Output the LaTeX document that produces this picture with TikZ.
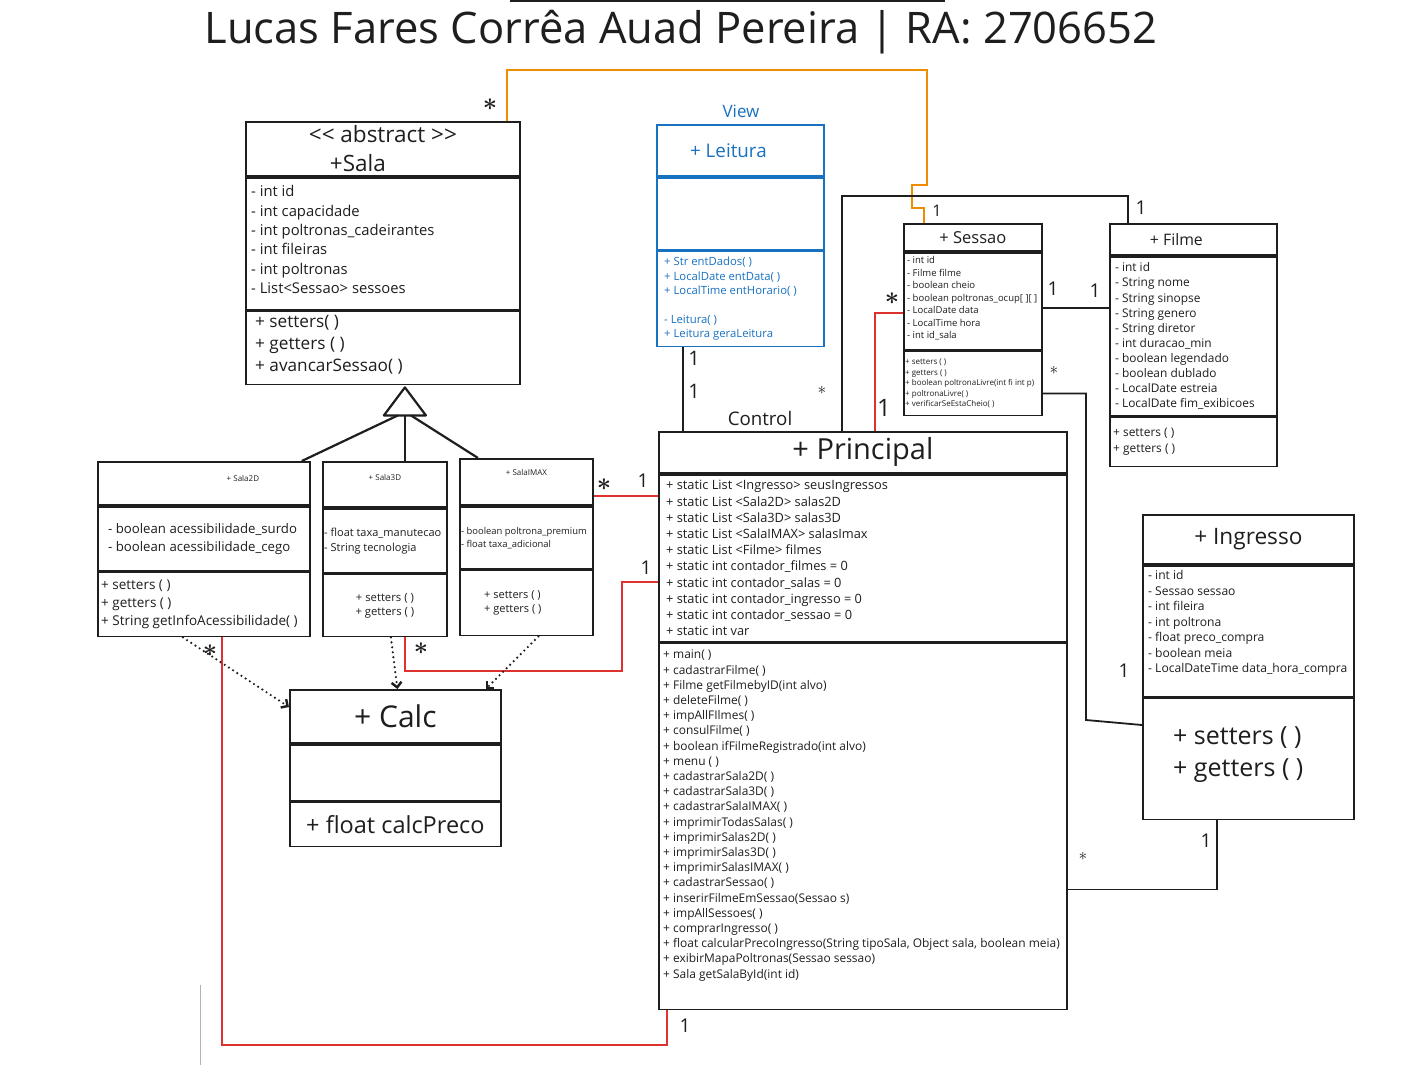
\documentclass[tikz,border=0pt]{standalone}
\usepackage{amsmath}
\usepackage{fontspec}
\setmainfont{Open Sans}
\usetikzlibrary{arrows.meta,positioning}
\definecolor{ink}{HTML}{1E1E1E}
\definecolor{crimson}{HTML}{E03131}
\definecolor{amber}{HTML}{F08C00}
\definecolor{azure}{HTML}{1971C2}
\newcommand{\fsz}[2]{\fontsize{#1}{#2}\selectfont}
\newcommand{\mstar}{$\boldsymbol{\ast}$}

\begin{document}
\begin{tikzpicture}[
    x=1pt, y=-1pt,
    part/.style 2 args={
        draw=ink,
        line width=1.8pt,
        anchor=north west,
        minimum width=#1,
        minimum height=#2,
        inner sep=0pt,
        text=ink,
        align=center
    },
    view/.style 2 args={part={#1}{#2}, draw=azure, text=azure},
    txt/.style={inner sep=0pt, align=left, text=ink, anchor=west},
    assoc/.style={draw=ink, line width=1.8pt},
    redline/.style={assoc, draw=crimson},
    orangeline/.style={assoc, draw=amber},
    gen/.style={draw=ink, line width=2.2pt, line join=round},
    dep/.style={draw=ink, line width=2.4pt, line cap=round, dash pattern=on 0pt off 5pt,
        -{Straight Barb[length=5pt, width=10pt]}},
    mult/.style={text=ink, inner sep=1pt, font=\fsz{19}{19}},
    star/.style={text=ink, inner sep=1pt, font=\fsz{30}{30}},
    smallstar/.style={text=ink, inner sep=1pt, font=\fsz{16}{16}}
]
\useasboundingbox (0,0) rectangle (1405,1065);
\fill[white] (0,0) rectangle (1405,1065);

% TITLE
\node[font=\fsz{43.5}{43.5}, text=ink] (title) at (681,32) {Lucas Fares Corrêa Auad Pereira | RA: 2706652};
\draw[ink, line width=1.5pt] (510,1) -- (945,1);

% SALA
\node[part={274pt}{54pt}, font=\fsz{22.5}{29}] (salaH) at (245,121) {<{}< abstract >{}>\\\hspace*{-50pt}+Sala};
\node[part={274pt}{132pt}] (salaA) at (salaH.south west) {};
\node[txt, font=\fsz{14.8}{19.4}, right=6pt of salaA.west, yshift=4pt] (salaAt) {- int id\\- int capacidade\\- int poltronas\_cadeirantes\\- int fileiras\\- int poltronas\\- List<Sessao> sessoes};
\node[part={274pt}{73pt}] (salaM) at (salaA.south west) {};
\node[txt, font=\fsz{17.2}{22}, right=10pt of salaM.west, yshift=3pt] (salaMt) {+ setters( )\\+ getters ( )\\+ avancarSessao( )};

% VIEW
\node[font=\fsz{17}{17}, text=azure] (viewLbl) at (741,111) {View};
\node[view={167pt}{51pt}] (leituraH) at (656,124) {};
\node[txt, text=azure, font=\fsz{18.8}{18.8}, anchor=center] (leituraHt) at ([xshift=-12pt]leituraH.center) {+ Leitura};
\node[view={167pt}{72pt}] (leituraA) at (leituraH.south west) {};
\node[view={167pt}{95pt}] (leituraM) at (leituraA.south west) {};
\node[txt, text=azure, font=\fsz{11.3}{14.4}, right=8pt of leituraM.west] (leituraMt) {+ Str entDados( )\\+ LocalDate entData( )\\+ LocalTime entHorario( )\\[14.4pt]- Leitura( )\\+ Leitura geraLeitura};

% SESSAO
\node[part={138pt}{27pt}, font=\fsz{16.5}{16.5}] (sessaoH) at (903,223) {+ Sessao};
\node[part={138pt}{97pt}] (sessaoA) at (sessaoH.south west) {};
\node[txt, font=\fsz{9.5}{12.5}, right=4pt of sessaoA.west, yshift=3pt] (sessaoAt) {- int id\\- Filme filme\\- boolean cheio\\- boolean poltronas\_ocup[ ][ ]\\- LocalDate data\\- LocalTime hora\\- int id\_sala};
\node[part={138pt}{64pt}] (sessaoM) at (sessaoA.south west) {};
\node[txt, font=\fsz{8}{10.5}, right=2pt of sessaoM.west] (sessaoMt) {+ setters ( )\\+ getters ( )\\+ boolean poltronaLivre(int fi int p)\\+ poltronaLivre( )\\+ verificarSeEstaCheio( )};

% FILME
\node[part={167pt}{31pt}] (filmeH) at (1109,223) {};
\node[txt, font=\fsz{15.8}{15.8}, anchor=center] (filmeHt) at ([xshift=-17pt]filmeH.center) {+ Filme};
\node[part={167pt}{159pt}] (filmeA) at (filmeH.south west) {};
\node[txt, font=\fsz{11.9}{15.1}, right=6pt of filmeA.west] (filmeAt) {- int id\\- String nome\\- String sinopse\\- String genero\\- String diretor\\- int duracao\_min\\- boolean legendado\\- boolean dublado\\- LocalDate estreia\\- LocalDate fim\_exibicoes};
\node[part={167pt}{49pt}] (filmeM) at (filmeA.south west) {};
\node[txt, font=\fsz{11.9}{16}, right=4pt of filmeM.west] (filmeMt) {+ setters ( )\\+ getters ( )};

% PRINCIPAL
\node[font=\fsz{18.7}{18.7}, text=ink] (ctrlLbl) at (760,418) {Control};
\node[part={408pt}{41pt}, font=\fsz{29}{29}] (principalH) at (658,431) {+ Principal};
\node[part={408pt}{167pt}] (principalA) at (principalH.south west) {};
\node[txt, font=\fsz{12.8}{16.2}, right=8pt of principalA.west] (principalAt) {+ static List <Ingresso> seusIngressos\\+ static List <Sala2D> salas2D\\+ static List <Sala3D> salas3D\\+ static List <SalaIMAX> salasImax\\+ static List <Filme> filmes\\+ static int contador\_filmes = 0\\+ static int contador\_salas = 0\\+ static int contador\_ingresso = 0\\+ static int contador\_sessao = 0\\+ static int var};
\node[part={408pt}{366pt}] (principalM) at (principalA.south west) {};
\node[txt, font=\fsz{11.95}{15.2}, right=5pt of principalM.west, yshift=11pt] (principalMt) {+ main( )\\+ cadastrarFilme( )\\+ Filme getFilmebyID(int alvo)\\+ deleteFilme( )\\+ impAllFIlmes( )\\+ consulFilme( )\\+ boolean ifFilmeRegistrado(int alvo)\\+ menu ( )\\+ cadastrarSala2D( )\\+ cadastrarSala3D( )\\+ cadastrarSalaIMAX( )\\+ imprimirTodasSalas( )\\+ imprimirSalas2D( )\\+ imprimirSalas3D( )\\+ imprimirSalasIMAX( )\\+ cadastrarSessao( )\\+ inserirFilmeEmSessao(Sessao s)\\+ impAllSessoes( )\\+ comprarIngresso( )\\+ float calcularPrecoIngresso(String tipoSala, Object sala, boolean meia)\\+ exibirMapaPoltronas(Sessao sessao)\\+ Sala getSalaById(int id)};

% INGRESSO
\node[part={211pt}{49pt}, font=\fsz{22.6}{22.6}] (ingressoH) at (1142,514) {+ Ingresso};
\node[part={211pt}{131pt}] (ingressoA) at (ingressoH.south west) {};
\node[txt, font=\fsz{12.1}{15.5}, right=6pt of ingressoA.west, yshift=8pt] (ingressoAt) {- int id\\- Sessao sessao\\- int fileira\\- int poltrona\\- float preco\_compra\\- boolean meia\\- LocalDateTime data\_hora\_compra};
\node[part={211pt}{121pt}] (ingressoM) at (ingressoA.south west) {};
\node[txt, font=\fsz{25}{32}, right=31pt of ingressoM.west, yshift=4pt] (ingressoMt) {+ setters ( )\\+ getters ( )};

% SALA2D
\node[part={212pt}{43pt}] (sala2dH) at (97,461) {};
\node[txt, font=\fsz{8}{8}, anchor=center] (sala2dHt) at ([xshift=39pt,yshift=5pt]sala2dH.center) {+ Sala2D};
\node[part={212pt}{64pt}] (sala2dA) at (sala2dH.south west) {};
\node[txt, font=\fsz{13.2}{18}, right=11pt of sala2dA.west] (sala2dAt) {- boolean acessibilidade\_surdo\\- boolean acessibilidade\_cego};
\node[part={212pt}{64pt}] (sala2dM) at (sala2dA.south west) {};
\node[txt, font=\fsz{13.5}{18}, right=4pt of sala2dM.west] (sala2dMt) {+ setters ( )\\+ getters ( )\\+ String getInfoAcessibilidade( )};

% SALA3D
\node[part={124pt}{45pt}] (sala3dH) at (322,461) {};
\node[txt, font=\fsz{8}{8}, anchor=center] (sala3dHt) at ([yshift=7pt]sala3dH.center) {+ Sala3D};
\node[part={124pt}{64pt}] (sala3dA) at (sala3dH.south west) {};
\node[txt, font=\fsz{11}{15}, right=2pt of sala3dA.west] (sala3dAt) {- float taxa\_manutecao\\- String tecnologia};
\node[part={124pt}{62pt}, font=\fsz{11.3}{14}] (sala3dM) at (sala3dA.south west) {+ setters ( )\\+ getters ( )};

% SALAIMAX
\node[part={133pt}{46pt}] (salaimaxH) at (459,458) {};
\node[txt, font=\fsz{8}{8}, anchor=center] (salaimaxHt) at ([yshift=9pt]salaimaxH.center) {+ SalaIMAX};
\node[part={133pt}{62pt}] (salaimaxA) at (salaimaxH.south west) {};
\node[txt, font=\fsz{9.4}{13}, right=2pt of salaimaxA.west] (salaimaxAt) {- boolean poltrona\_premium\\- float taxa\_adicional};
\node[part={133pt}{65pt}] (salaimaxM) at (salaimaxA.south west) {};
\node[txt, font=\fsz{11}{14}, right=25pt of salaimaxM.west] (salaimaxMt) {+ setters ( )\\+ getters ( )};

% CALC
\node[part={211pt}{53pt}, font=\fsz{30}{30}] (calcH) at (289,689) {+ Calc};
\node[part={211pt}{56pt}] (calcA) at (calcH.south west) {};
\node[part={211pt}{44pt}, font=\fsz{23.5}{23.5}] (calcM) at (calcA.south west) {+ float calcPreco};

% --- INHERITANCE ---
\coordinate (tip) at ([xshift=22pt,yshift=-2pt]salaM.south);
\coordinate (base) at ([yshift=-28pt]tip);
\draw[gen] (tip) -- ([xshift=-21pt]base) -- ([xshift=21pt]base) -- cycle;
\draw[gen] ([xshift=-7pt]base) -- ([xshift=-9pt]sala2dH.north east);
\draw[gen] (base) -- (base |- sala3dH.north);
\draw[gen] ([xshift=6pt]base) -- ([xshift=19pt]salaimaxH.north west);

% --- ASSOCIATIONS ---
\draw[orangeline] ([xshift=-14pt]salaH.north east) |- (927,70) |- (912,185) -- (912,208) -| ([xshift=21pt]sessaoH.north west);
\draw[assoc] ([xshift=-21pt]principalH.north) |- (1128,196) -- ([xshift=19pt]filmeH.north west);
\draw[redline] ([yshift=-12pt]sessaoA.west) -| ([xshift=12pt]principalH.north);
\draw[assoc] ([xshift=27pt]leituraM.south west) -- ([xshift=25pt]principalH.north west);
\coordinate (sf) at ([yshift=-7pt]sessaoA.east);
\draw[assoc] (sf) -- (sf -| filmeA.west);
\draw[assoc] ([yshift=-10pt]sessaoM.east) -| (1086,720) -- ([yshift=34pt]ingressoM.west);
\draw[assoc] ([yshift=-63pt]principalM.east) -| ([xshift=75pt]ingressoM.south west);
\coordinate (ip) at ([yshift=-14pt]salaimaxH.east);
\draw[redline] (ip) -- (ip -| principalA.west);
\draw[redline] ([xshift=20pt]sala3dM.south) |- (622,671) |- ([yshift=-24pt]principalA.west);
\draw[redline] ([xshift=18pt]sala2dM.south) |- (667,1045) -- ([xshift=9pt]principalM.south west);

% --- DEPENDENCIES ---
\draw[dep] ([xshift=-21pt]sala2dM.south) -- ([yshift=-18pt]calcH.north west);
\draw[dep] ([xshift=6pt]sala3dM.south) -- ([xshift=2pt]calcH.north);
\draw[dep] ([xshift=12pt]salaimaxM.south) -- ([xshift=-16pt]calcH.north east);

\draw[black!30, line width=1pt] (200,985) -- (200,1065);

% --- MULTIPLICITIES ---
\node[star] (mSalaSes) at (490,105) {\mstar};
\node[mult, font=\fsz{16}{16}] (mSesSala) at (937,211) {1};
\node[mult] (mFilPri) at (1141,208) {1};
\node[mult, font=\fsz{20}{20}] (mLeiA) at (694,358) {1};
\node[mult, font=\fsz{20}{20}] (mLeiB) at (694,391) {1};
\node[smallstar] (mPriFil) at (822,390) {$\ast$};
\node[mult, font=\fsz{24}{24}] (mPriSes) at (884,408) {1};
\node[star] (mSesPri) at (892,299) {\mstar};
\node[mult] (mSesFil) at (1053,289) {1};
\node[mult] (mFilSes) at (1095,291) {1};
\node[smallstar] (mSesIng) at (1054,370) {$\ast$};
\node[mult] (mIngSes) at (1124,671) {1};
\node[smallstar] (mPriIng) at (1083,856) {$\ast$};
\node[mult] (mIngPri) at (1206,841) {1};
\node[star] (mImaxPri) at (604,485) {\mstar};
\node[mult] (mPriImax) at (643,481) {1};
\node[mult] (mPriS3d) at (646,568) {1};
\node[star] (mS3dPri) at (421,649) {\mstar};
\node[star] (mS2dCalc) at (210,651) {\mstar};
\node[mult] (mPriS2d) at (685,1026) {1};

\end{tikzpicture}
\end{document}
